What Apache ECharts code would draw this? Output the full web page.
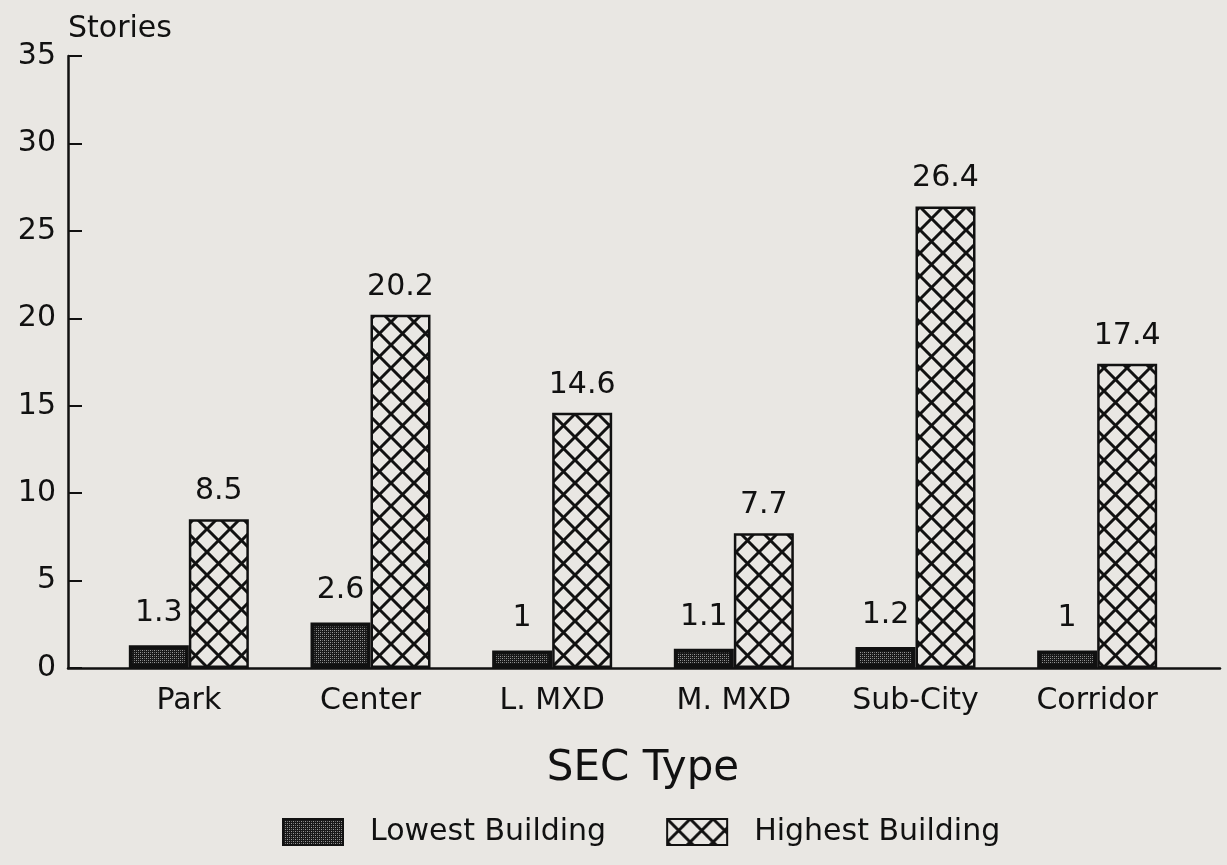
<!DOCTYPE html>
<html>
<head>
<meta charset="utf-8">
<title>SEC Type building heights</title>
<script src="https://cdn.jsdelivr.net/npm/echarts@6/dist/echarts.min.js"></script>
<style>
  html, body { margin: 0; padding: 0; background: #e9e7e3; }
  #chart { width: 1227px; height: 865px; }
</style>
</head>
<body>
<div id="chart"></div>
<script>
// Stories of the lowest and highest building, by SEC type
const categories = ['Park', 'Center', 'L. MXD', 'M. MXD', 'Sub-City', 'Corridor'];
const lowestBuilding = [1.3, 2.6, 1, 1.1, 1.2, 1];
const highestBuilding = [8.5, 20.2, 14.6, 7.7, 26.4, 17.4];
const seriesNames = ['Lowest Building', 'Highest Building'];
const yMin = 0, yMax = 35, yStep = 5;

const BG = '#e9e7e3';
const INK = '#111111';
const FONT = 'DejaVu Sans';

// Dark stipple fill for the lowest-building bars
function stipplePattern() {
  const c = document.createElement('canvas');
  c.width = 4; c.height = 4;
  const g = c.getContext('2d');
  g.fillStyle = '#181818';
  g.fillRect(0, 0, 4, 4);
  g.fillStyle = '#9a9a9a';
  g.fillRect(0, 0, 1, 1);
  g.fillRect(2, 2, 1, 1);
  g.fillStyle = '#6a6a6a';
  g.fillRect(2, 0, 1, 1);
  g.fillRect(0, 2, 1, 1);
  return c;
}

// Diagonal cross-hatch fill for the highest-building bars
function hatchPattern() {
  const s = 23;
  const c = document.createElement('canvas');
  c.width = s; c.height = s;
  const g = c.getContext('2d');
  g.fillStyle = BG;
  g.fillRect(0, 0, s, s);
  g.strokeStyle = INK;
  g.lineWidth = 3;
  g.beginPath();
  g.moveTo(-2, -2); g.lineTo(s + 2, s + 2);
  g.moveTo(s + 2, -2); g.lineTo(-2, s + 2);
  g.stroke();
  return c;
}

const chart = echarts.init(document.getElementById('chart'), null, { renderer: 'canvas' });

const valueLabel = {
  show: true,
  position: 'top',
  color: INK,
  fontFamily: FONT,
  fontSize: 30
};

chart.setOption({
  backgroundColor: BG,
  animation: false,
  textStyle: { fontFamily: FONT, color: INK },
  legend: {
    data: seriesNames,
    left: 277,
    top: 812,
    itemWidth: 60,
    itemHeight: 26,
    itemGap: 60,
    icon: 'rect',
    textStyle: { fontFamily: FONT, fontSize: 30, color: INK, padding: [0, 0, 0, 22] }
  },
  grid: [
    { left: 98, right: 39, top: 56, bottom: 197, containLabel: false },
    { left: 68, right: 7, top: 56, bottom: 197, containLabel: false }
  ],
  xAxis: [
    {
      type: 'category',
      gridIndex: 0,
      data: categories,
      name: 'SEC Type',
      nameLocation: 'middle',
      nameGap: 80,
      nameTextStyle: { fontFamily: FONT, fontSize: 42, color: INK },
      axisLine: { show: false },
      axisTick: { show: false },
      axisLabel: { fontFamily: FONT, fontSize: 30, color: INK, margin: 18 }
    },
    {
      // baseline running the full width under the bars
      type: 'value',
      gridIndex: 1,
      min: 0, max: 1,
      axisLine: { show: true, onZero: false, lineStyle: { color: INK, width: 2.5 } },
      axisTick: { show: false },
      axisLabel: { show: false },
      splitLine: { show: false }
    }
  ],
  yAxis: [
    {
      type: 'value',
      gridIndex: 0,
      min: yMin,
      max: yMax,
      interval: yStep,
      offset: 30,
      name: 'Stories',
      nameLocation: 'end',
      nameGap: 12,
      nameTextStyle: { fontFamily: FONT, fontSize: 30, color: INK, align: 'left', padding: [0, 0, 0, 0] },
      axisLine: { show: true, lineStyle: { color: INK, width: 2.5 } },
      axisTick: { show: true, inside: true, length: 14, lineStyle: { color: INK, width: 2 } },
      axisLabel: { fontFamily: FONT, fontSize: 30, color: INK, margin: 12 },
      splitLine: { show: false }
    },
    {
      type: 'value',
      gridIndex: 1,
      show: false,
      min: 0, max: 1
    }
  ],
  series: [
    {
      name: seriesNames[0],
      type: 'bar',
      xAxisIndex: 0,
      yAxisIndex: 0,
      data: lowestBuilding,
      barWidth: 60,
      barGap: '0%',
      itemStyle: {
        color: { image: stipplePattern(), repeat: 'repeat' },
        borderColor: INK,
        borderWidth: 4
      },
      label: Object.assign({}, valueLabel, { distance: 17 })
    },
    {
      name: seriesNames[1],
      type: 'bar',
      xAxisIndex: 0,
      yAxisIndex: 0,
      data: highestBuilding,
      barWidth: 60,
      itemStyle: {
        color: { image: hatchPattern(), repeat: 'repeat' },
        borderColor: INK,
        borderWidth: 2.5
      },
      label: Object.assign({}, valueLabel, { distance: 13 })
    }
  ]
});
</script>
</body>
</html>
